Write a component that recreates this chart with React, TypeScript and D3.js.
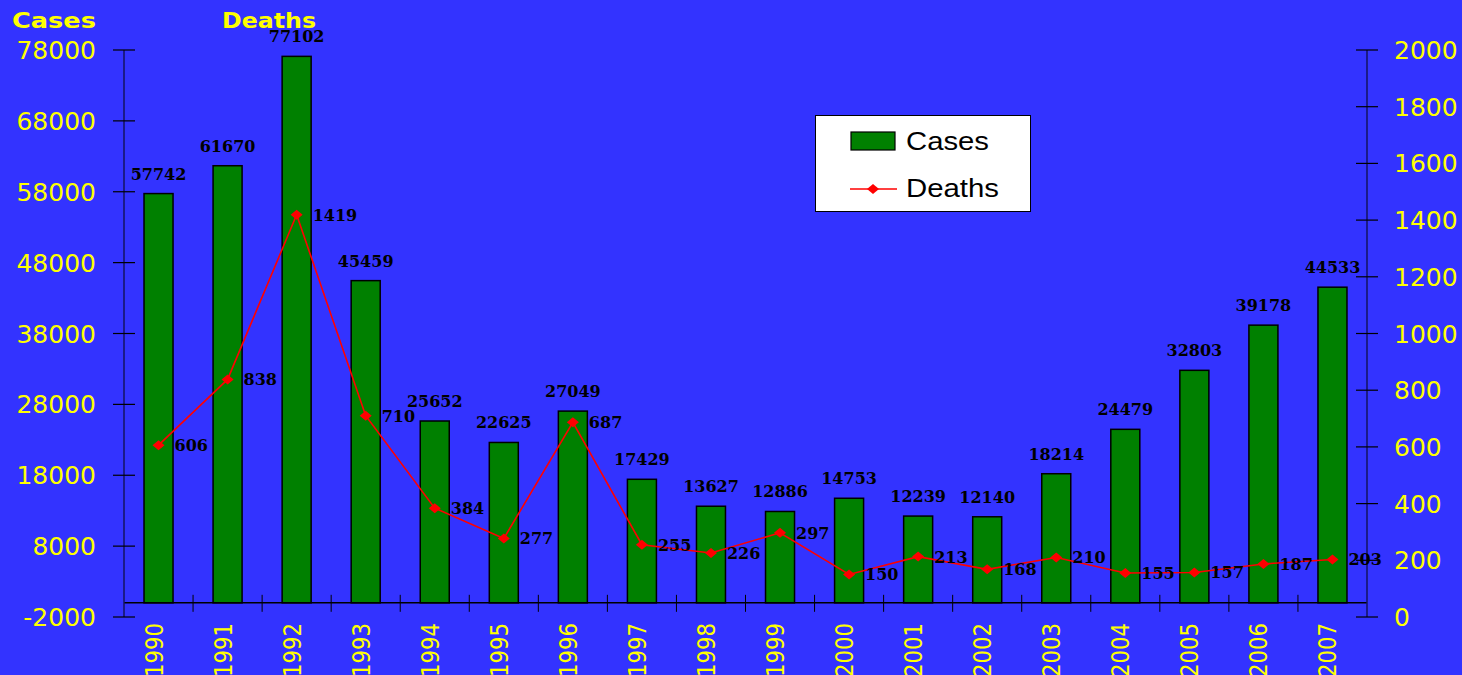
import React from "react";
import * as d3 from "d3";

const years = ["1990","1991","1992","1993","1994","1995","1996","1997","1998","1999","2000","2001","2002","2003","2004","2005","2006","2007"];
const cases = [57742,61670,77102,45459,25652,22625,27049,17429,13627,12886,14753,12239,12140,18214,24479,32803,39178,44533];
const deaths = [606,838,1419,710,384,277,687,255,226,297,150,213,168,210,155,157,187,203];
const leftTicks = [-2000,8000,18000,28000,38000,48000,58000,68000,78000];
const rightTicks = [0,200,400,600,800,1000,1200,1400,1600,1800,2000];

const W = 1462, H = 675;
const BG = "#3333ff";
const YEL = "#ffff00";

export default function App() {
  const x = d3.scaleBand<string>().domain(years).range([124, 1367]).paddingInner(0.58).paddingOuter(0.29);
  const yL = d3.scaleLinear().domain([-2000, 78000]).range([617, 50]);
  const yR = d3.scaleLinear().domain([0, 2000]).range([617, 50]);
  const bw = x.bandwidth();
  const cx = (yr: string) => (x(yr) as number) + bw / 2;
  const step = x.step();
  const line = d3.line<number>().x((_, i) => cx(years[i])).y((d) => yR(d));
  const diamond = (px: number, py: number) => `M${px - 6},${py} L${px},${py - 5} L${px + 6},${py} L${px},${py + 5} Z`;
  const y0 = yL(0);
  const sans = "DejaVu Sans, Verdana, sans-serif";

  return (
    <svg width={W} height={H} style={{ position: "absolute", left: 0, top: 0, display: "block" }}>
      <rect x={0} y={0} width={W} height={H} fill={BG} />
      {/* titles */}
      <text x={12} y={28} fill={YEL} fontFamily={sans} fontWeight="bold" fontSize={21} textLength={84} lengthAdjust="spacingAndGlyphs">Cases</text>
      <text x={222} y={28} fill={YEL} fontFamily={sans} fontWeight="bold" fontSize={21} textLength={94} lengthAdjust="spacingAndGlyphs">Deaths</text>

      {/* bars */}
      {years.map((yr, i) => (
        <rect key={yr} x={x(yr)} y={yL(cases[i])} width={bw} height={y0 - yL(cases[i])} fill="#008000" stroke="#000" strokeWidth={1.5} />
      ))}

      {/* x axis */}
      <line x1={124} x2={1367} y1={y0} y2={y0} stroke="#000" strokeWidth={1.5} />
      {years.slice(1).map((yr) => (
        <line key={"xt" + yr} x1={x(yr)! - (step - bw) / 2} x2={x(yr)! - (step - bw) / 2} y1={y0 - 8} y2={y0 + 9} stroke="#000" strokeWidth={1} />
      ))}

      {/* left axis */}
      <line x1={124} x2={124} y1={50} y2={617} stroke="#151560" strokeWidth={1.5} />
      {leftTicks.map((t) => (
        <g key={"l" + t}>
          <line x1={113} x2={135} y1={yL(t)} y2={yL(t)} stroke="#000" strokeWidth={1.2} />
          <text x={96} y={yL(t) + 9} textAnchor="end" fill={YEL} fontFamily={sans} fontSize={25}>{t}</text>
        </g>
      ))}

      {/* right axis */}
      <line x1={1367} x2={1367} y1={50} y2={617} stroke="#151560" strokeWidth={1.5} />
      {rightTicks.map((t) => (
        <g key={"r" + t}>
          <line x1={1356} x2={1378} y1={yR(t)} y2={yR(t)} stroke="#000" strokeWidth={1.2} />
          <text x={1394} y={yR(t) + 9} textAnchor="start" fill={YEL} fontFamily={sans} fontSize={25}>{t}</text>
        </g>
      ))}

      {/* year labels */}
      {years.map((yr) => (
        <text key={"yl" + yr} transform={`translate(${cx(yr) + 4},623) rotate(-90)`} textAnchor="end" fill={YEL} fontFamily={sans} fontSize={25} textLength={54} lengthAdjust="spacingAndGlyphs">{yr}</text>
      ))}

      {/* bar value labels */}
      {years.map((yr, i) => (
        <text key={"cv" + yr} x={cx(yr)} y={yL(cases[i]) - 14} textAnchor="middle" fill="#000" fontFamily="DejaVu Serif, serif" fontWeight="bold" fontSize={16}>{cases[i]}</text>
      ))}

      {/* deaths line */}
      <path d={line(deaths) || ""} fill="none" stroke="#ff0000" strokeWidth={1.6} />
      {years.map((yr, i) => (
        <path key={"dm" + yr} d={diamond(cx(yr), yR(deaths[i]))} fill="#ff0000" />
      ))}
      {years.map((yr, i) => (
        <text key={"dv" + yr} x={cx(yr) + 16} y={yR(deaths[i]) + 6} fill="#000" fontFamily="DejaVu Serif, serif" fontWeight="bold" fontSize={16}>{deaths[i]}</text>
      ))}

      {/* legend */}
      <rect x={815.5} y={115.5} width={215} height={96} fill="#fff" stroke="#000" strokeWidth={1} />
      <rect x={851} y={132} width={44} height={18} fill="#008000" stroke="#000" strokeWidth={1.2} />
      <text x={906} y={150} fill="#000" fontFamily="Liberation Sans, Arial, sans-serif" fontSize={25} textLength={83} lengthAdjust="spacingAndGlyphs">Cases</text>
      <line x1={850} x2={897} y1={189} y2={189} stroke="#ff0000" strokeWidth={1.6} />
      <path d={diamond(873, 189)} fill="#ff0000" />
      <text x={906} y={197} fill="#000" fontFamily="Liberation Sans, Arial, sans-serif" fontSize={25} textLength={93} lengthAdjust="spacingAndGlyphs">Deaths</text>
    </svg>
  );
}
